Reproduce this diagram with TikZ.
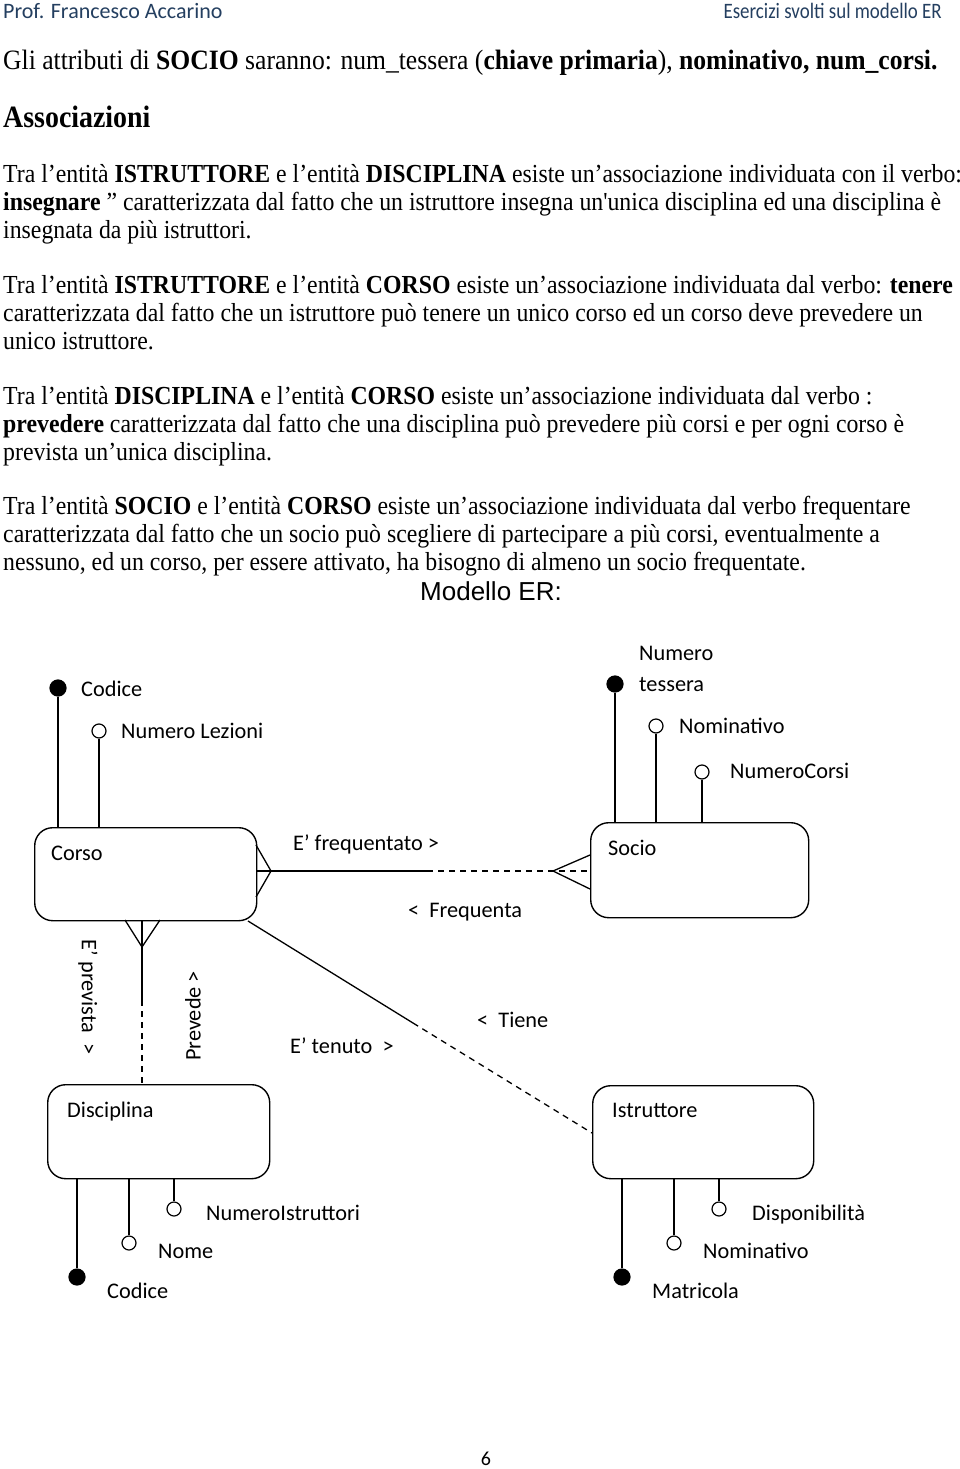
\documentclass[tikz,border=0pt]{standalone}
\usepackage{fontspec}
\setmainfont{Liberation Serif}
\newfontfamily\calfont{Carlito}
\newfontfamily\arialfont{Liberation Sans}
\definecolor{hdr}{HTML}{243F60}
\newcommand\bsx{0.915}
\newcommand\dsx{1.0}
\newcommand\tline[3]{\node[body] (#1) at (3,#2) {\scalebox{\bsx}[1]{#3}};}
\newcommand\dlab[3]{\node[lbl] (#1) at #2 {\scalebox{\dsx}[1]{#3}};}
\begin{document}
\begin{tikzpicture}[x=1pt,y=-1pt,
 body/.style={anchor=base west, inner sep=0pt, font=\fontsize{26}{28}\selectfont},
 lbl/.style={anchor=base west, inner sep=0pt, font=\calfont\fontsize{22.3}{24}\selectfont},
 ent/.style={draw, line width=1.4pt, rounded corners=18pt, inner sep=0pt, anchor=north west},
 keyat/.style={circle, fill=black, draw, line width=1.2pt, minimum size=16pt, inner sep=0pt},
 att/.style={circle, fill=white, draw, line width=1.2pt, minimum size=14pt, inner sep=0pt},
 conn/.style={line width=1.3pt},
 dconn/.style={line width=1.3pt, dash pattern=on 6pt off 5pt},
]
\useasboundingbox[fill=white] (0,0) rectangle (960,1469);

% header
\node[anchor=base west, inner sep=0pt, font=\calfont\fontsize{22}{24}\selectfont, text=hdr] (hl) at (3,19) {Prof. Francesco Accarino};
\node[anchor=base east, inner sep=0pt, font=\calfont\fontsize{22}{24}\selectfont, text=hdr] (hr) at (942,19) {\scalebox{0.86}[1]{Esercizi svolti sul modello ER}};

% text
\node[body, font=\fontsize{28}{30}\selectfont] (t0) at (3,70) {\scalebox{\bsx}[1]{Gli attributi di \textbf{SOCIO} saranno: num\_tessera (\textbf{chiave primaria}), \textbf{nominativo, num\_corsi.}}};
\node[anchor=base west, inner sep=0pt, font=\fontsize{31}{33}\selectfont\bfseries] (ass) at (3,128) {\scalebox{0.9}[1]{Associazioni}};

\tline{p1a}{182}{Tra l’entità \textbf{ISTRUTTORE} e l’entità \textbf{DISCIPLINA} esiste un’associazione individuata con il verbo:}
\tline{p1b}{210}{\textbf{insegnare} ” caratterizzata dal fatto che un istruttore insegna un\textquotesingle unica disciplina ed una disciplina è}
\tline{p1c}{238}{insegnata da più istruttori.}

\tline{p2a}{293}{Tra l’entità \textbf{ISTRUTTORE} e l’entità \textbf{CORSO} esiste un’associazione individuata dal verbo: \textbf{tenere}}
\tline{p2b}{321}{caratterizzata dal fatto che un istruttore può tenere un unico corso ed un corso deve prevedere un}
\tline{p2c}{349}{unico istruttore.}

\tline{p3a}{404}{Tra l’entità \textbf{DISCIPLINA} e l’entità \textbf{CORSO} esiste un’associazione individuata dal verbo :}
\tline{p3b}{432}{\textbf{prevedere} caratterizzata dal fatto che una disciplina può prevedere più corsi e per ogni corso è}
\tline{p3c}{460}{prevista un’unica disciplina.}

\tline{p4a}{514}{Tra l’entità \textbf{SOCIO} e l’entità \textbf{CORSO} esiste un’associazione individuata dal verbo frequentare}
\tline{p4b}{542}{caratterizzata dal fatto che un socio può scegliere di partecipare a più corsi, eventualmente a}
\tline{p4c}{570}{nessuno, ed un corso, per essere attivato, ha bisogno di almeno un socio frequentate.}

\node[anchor=base, inner sep=0pt, font=\arialfont\fontsize{26}{28}\selectfont] (mer) at (491,600) {Modello ER:};

% entities
\node[ent, minimum width=222pt, minimum height=93pt] (corso) at (34,827) {};
\node[ent, minimum width=218pt, minimum height=95pt] (socio) at (590,822) {};
\node[ent, minimum width=222pt, minimum height=94pt] (disc) at (47,1084) {};
\node[ent, minimum width=221pt, minimum height=93pt] (istr) at (592,1085) {};

\dlab{lcorso}{(51,860)}{Corso}
\dlab{lsocio}{(608,855)}{Socio}
\dlab{ldisc}{(67,1117)}{Disciplina}
\dlab{listr}{(612,1117)}{Istruttore}

% Corso attributes
\node[keyat] (cc) at (58,688) {};
\node[att] (cnl) at (99,731) {};
\draw[conn] (cc) -- (cc |- corso.north);
\draw[conn] (cnl) -- (cnl |- corso.north);
\dlab{lcc}{(81,696)}{Codice}
\dlab{lcnl}{(121,738)}{Numero Lezioni}

% Socio attributes
\node[keyat] (snt) at (615,684) {};
\node[att] (snom) at (656,726) {};
\node[att] (snc) at (702,772) {};
\draw[conn] (snt) -- (snt |- socio.north);
\draw[conn] (snom) -- (snom |- socio.north);
\draw[conn] (snc) -- (snc |- socio.north);
\dlab{lsnt1}{(639,660)}{Numero}
\dlab{lsnt2}{(639,691)}{tessera}
\dlab{lsnom}{(679,733)}{Nominativo}
\dlab{lsnc}{(730,778)}{NumeroCorsi}

% Disciplina attributes
\node[keyat] (dc) at (77,1277) {};
\node[att] (dn) at (129,1243) {};
\node[att] (dni) at (174,1209) {};
\draw[conn] (dc) -- (dc |- disc.south);
\draw[conn] (dn) -- (dn |- disc.south);
\draw[conn] (dni) -- (dni |- disc.south);
\dlab{ldc}{(107,1298)}{Codice}
\dlab{ldn}{(158,1258)}{Nome}
\dlab{ldni}{(206,1220)}{NumeroIstruttori}

% Istruttore attributes
\node[keyat] (im) at (622,1277) {};
\node[att] (inom) at (674,1243) {};
\node[att] (idisp) at (719,1209) {};
\draw[conn] (im) -- (im |- istr.south);
\draw[conn] (inom) -- (inom |- istr.south);
\draw[conn] (idisp) -- (idisp |- istr.south);
\dlab{lim}{(652,1298)}{Matricola}
\dlab{linom}{(703,1258)}{Nominativo}
\dlab{lidisp}{(752,1220)}{Disponibilità}

% Corso - Socio
\coordinate (cs) at (427,871);
\draw[conn] (corso.east |- cs) -- (cs);
\draw[dconn] (cs) -- (socio.west |- cs);
\coordinate (cf1) at (256,845);
\coordinate (cf2) at (271,871);
\coordinate (cf3) at (256,897);
\draw[conn] (cf1) -- (cf2) -- (cf3);
\coordinate (sf1) at (590,855);
\coordinate (sf2) at (553,871);
\coordinate (sf3) at (590,889);
\draw[conn] (sf1) -- (sf2) -- (sf3);
\dlab{lfreq1}{(293,850)}{E’ frequentato >}
\dlab{lfreq2}{(408,917)}{<\ \ Frequenta}

% Corso - Disciplina
\coordinate (cd) at (142,1000);
\draw[conn] (corso.south -| cd) -- (cd);
\draw[dconn] (cd) -- (disc.north -| cd);
\coordinate (df1) at (125,920);
\coordinate (df2) at (142,947);
\coordinate (df3) at (160,920);
\draw[conn] (df1) -- (df2) -- (df3);
\node[lbl, anchor=center, rotate=-90] (lprev1) at (88,997) {E’ prevista\ \ >};
\node[lbl, anchor=center, rotate=90] (lprev2) at (193,1016) {Prevede >};

% Corso - Istruttore
\coordinate (ci0) at (248,921);
\coordinate (ci1) at (413,1023);
\coordinate (ci2) at (592,1133);
\draw[conn] (ci0) -- (ci1);
\draw[dconn] (ci1) -- (ci2);
\dlab{lten1}{(290,1053)}{E’ tenuto\ \ >}
\dlab{lten2}{(477,1027)}{<\ \ Tiene}

% page number
\node[anchor=base, inner sep=0pt, font=\calfont\fontsize{20}{22}\selectfont] (pg) at (486,1465) {6};
\end{tikzpicture}
\end{document}
